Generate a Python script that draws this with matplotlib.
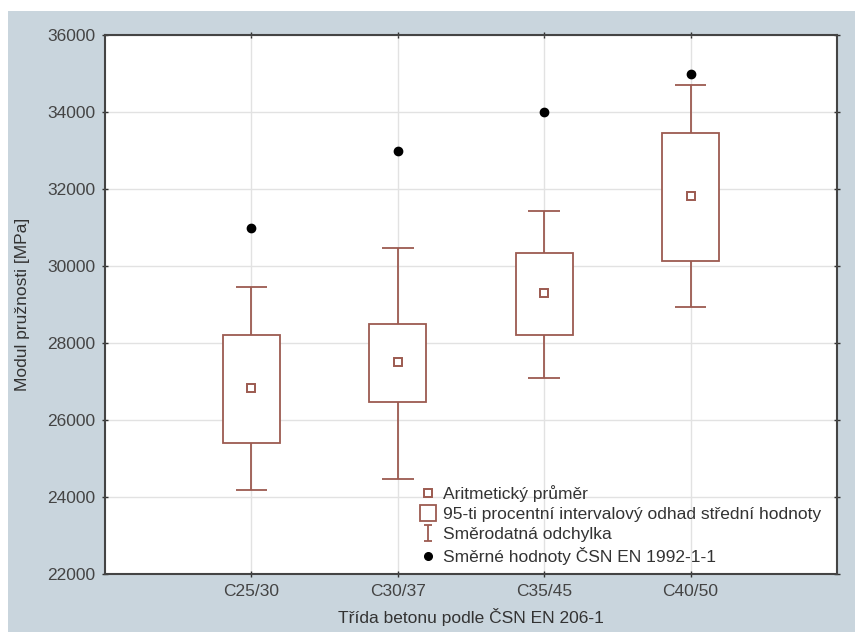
import matplotlib
matplotlib.use("Agg")
import matplotlib.pyplot as plt
import numpy as np
from matplotlib.lines import Line2D
from matplotlib.patches import Rectangle
from matplotlib.path import Path

plt.rcParams["font.family"] = ["Liberation Sans", "DejaVu Sans"]

# data
classes = ["C25/30", "C30/37", "C35/45", "C40/50"]
mean = [26830, 27500, 29290, 31830]
ci_low = [25400, 26480, 28210, 30140]
ci_high = [28200, 28500, 30340, 33460]
sd_low = [24180, 24480, 27100, 28930]
sd_high = [29450, 30480, 31430, 34710]
norm_values = [31000, 33000, 34000, 35000]

BROWN = "#9c5a50"
BG = "#c9d5dd"
FS = 12.5

fig = plt.figure(figsize=(8.55, 6.32), dpi=100)
fig.patch.set_facecolor("white")
fig.add_artist(Rectangle((8 / 855, 0), 1, 1 - 11 / 632, transform=fig.transFigure,
                         facecolor=BG, edgecolor="none", zorder=-10))
ax = fig.add_axes([105 / 855, 1 - 574 / 632, (837 - 105) / 855, (574 - 35) / 632])
ax.set_facecolor("white")

x = np.arange(len(classes))
box_w = 0.39
cap_w = 0.215

# standard deviation whiskers
ax.vlines(x, sd_low, ci_low, color=BROWN, lw=1.3, zorder=3)
ax.vlines(x, ci_high, sd_high, color=BROWN, lw=1.3, zorder=3)
ax.hlines(sd_low, x - cap_w / 2, x + cap_w / 2, color=BROWN, lw=1.3, zorder=3)
ax.hlines(sd_high, x - cap_w / 2, x + cap_w / 2, color=BROWN, lw=1.3, zorder=3)

# confidence interval boxes
ax.bar(x, np.array(ci_high) - np.array(ci_low), bottom=ci_low, width=box_w,
       facecolor="white", edgecolor=BROWN, linewidth=1.3, zorder=4)

# means
ax.plot(x, mean, ls="none", marker="s", ms=6, mfc="white", mec=BROWN, mew=1.4, zorder=5)

# code reference values
ax.plot(x, norm_values, ls="none", marker="o", ms=6, color="black", zorder=5)

ax.set_xlim(-1, 4)
ax.set_ylim(22000, 36000)
ax.set_xticks(x)
ax.set_xticklabels(classes)
ax.set_yticks(np.arange(22000, 36001, 2000))
ax.tick_params(axis="both", labelsize=FS, colors="#333333", direction="inout",
               length=4, width=1, top=True, right=True, pad=5)
ax.tick_params(axis="both", labelcolor="#444444")
ax.grid(True, color="#e2e2e2", lw=1)
ax.set_axisbelow(True)
for s in ax.spines.values():
    s.set_color("#444444")
    s.set_linewidth(1.5)

ax.set_xlabel("Třída betonu podle ČSN EN 206-1", fontsize=FS, color="#333333", labelpad=7)
ax.set_ylabel("Modul pružnosti [MPa]", fontsize=FS, color="#333333", labelpad=12)

sd_marker = Path([(-0.5, -1), (0.5, -1), (0, -1), (0, 1), (-0.5, 1), (0.5, 1)],
                 [Path.MOVETO, Path.LINETO, Path.MOVETO, Path.LINETO, Path.MOVETO, Path.LINETO])
handles = [
    Line2D([], [], ls="none", marker="s", ms=5.5, mfc="white", mec=BROWN, mew=1.4),
    Line2D([], [], ls="none", marker="s", ms=12, mfc="white", mec=BROWN, mew=1.3),
    Line2D([], [], ls="none", marker=sd_marker, ms=12, mfc="none", mec=BROWN, mew=1.3),
    Line2D([], [], ls="none", marker="o", ms=5.5, color="black"),
]
labels = ["Aritmetický průměr",
          "95-ti procentní intervalový odhad střední hodnoty",
          "Směrodatná odchylka",
          "Směrné hodnoty ČSN EN 1992-1-1"]
ax.legend(handles, labels, loc="upper left", bbox_to_anchor=(0.43, 0.165),
          frameon=False, fontsize=FS, handlelength=1.0, handletextpad=0.35,
          labelspacing=0.28, borderpad=0, borderaxespad=0, labelcolor="#333333")

fig.savefig("out.png", dpi=100, facecolor=fig.get_facecolor())
